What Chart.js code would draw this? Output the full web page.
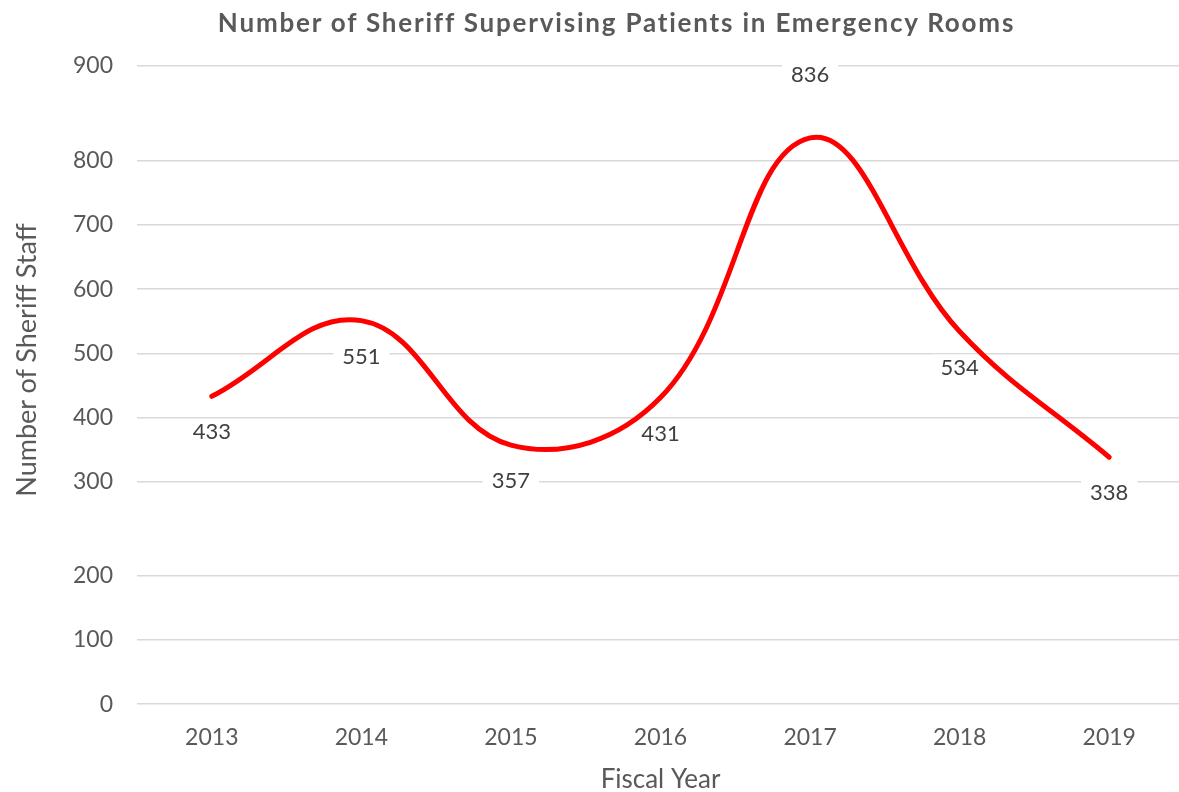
<!DOCTYPE html>
<html><head><meta charset="utf-8">
<script src="https://cdn.jsdelivr.net/npm/chart.js@4/dist/chart.umd.min.js"></script>
<style>
html,body{margin:0;padding:0;background:#fff;overflow:hidden}
#wrap{position:relative;width:1186px;height:792px}
canvas{display:block;position:absolute;left:0;top:0}
#title{position:absolute;left:0;top:7px;width:1233px;text-align:center;font:bold 26px Lato, sans-serif;line-height:30px;letter-spacing:1.8px;color:#595959;white-space:nowrap}
#ytitle{position:absolute;left:25px;top:360px;width:400px;margin-left:-200px;margin-top:-16px;height:32px;line-height:32px;text-align:center;font:27px Lato, sans-serif;color:#595959;white-space:nowrap;transform:rotate(-90deg)}
</style>
</head><body>
<div id="wrap">
<canvas id="c" width="1186" height="792"></canvas>
<div id="title">Number of Sheriff Supervising Patients in Emergency Rooms</div>
<div id="ytitle">Number of Sheriff Staff</div>
</div>
<script>
const categories = ['2013','2014','2015','2016','2017','2018','2019'];
const sheriffStaff = [433, 551, 357, 431, 836, 534, 338];
const labelPlacement = ['below','below','below','below','above','below','below'];
const yTickLabels = [0, 100, 200, 300, 400, 500, 600, 700, 800, 900];
// the reference axis has extra space inserted below 300 and above 800 (axis breaks)
const axisBreaks = [{below: 250, extra: 47}, {above: 850, extra: 48}];

function toAxis(v) {
  let r = v;
  axisBreaks.forEach(b => {
    if (b.below !== undefined && v < b.below) r -= b.extra;
    if (b.above !== undefined && v > b.above) r += b.extra;
  });
  return r;
}

const TXT = '#595959';
const FONT = 'Lato';

const pointLabels = {
  id: 'pointLabels',
  beforeDatasetsDraw(chart) {
    const ctx = chart.ctx;
    const meta = chart.getDatasetMeta(0);
    ctx.save();
    ctx.font = '22px ' + FONT;
    ctx.textAlign = 'center';
    ctx.textBaseline = 'middle';
    meta.data.forEach((pt, i) => {
      const txt = String(sheriffStaff[i]);
      const dy = labelPlacement[i] === 'above' ? -63 : 36;
      const x = pt.x, y = pt.y + dy;
      const w = ctx.measureText(txt).width + 18, h = 26;
      ctx.fillStyle = '#ffffff';
      ctx.fillRect(x - w / 2, y - h / 2, w, h);
      ctx.fillStyle = '#404040';
      ctx.fillText(txt, x, y);
    });
    ctx.restore();
  }
};

function draw() {
  new Chart(document.getElementById('c'), {
    type: 'line',
    data: {
      labels: categories,
      datasets: [{
        data: sheriffStaff,
        borderColor: '#FF0000',
        borderWidth: 5,
        tension: 0.4,
        pointRadius: 0,
        fill: false,
        borderCapStyle: 'round',
        borderJoinStyle: 'round'
      }]
    },
    options: {
      responsive: false,
      animation: false,
      devicePixelRatio: 1,
      layout: { padding: { top: 66, left: 49, right: 2, bottom: -3 } },
      plugins: {
        legend: { display: false },
        tooltip: { enabled: false },
        title: { display: false }
      },
      scales: {
        x: {
          type: 'category',
          offset: true,
          grid: { display: false, drawTicks: false },
          border: { display: false },
          ticks: { color: TXT, font: { family: FONT, size: 23 }, padding: 20 },
          title: { display: true, text: 'Fiscal Year', color: TXT, font: { family: FONT, size: 26 }, padding: { top: -8, bottom: 0 } }
        },
        y: {
          min: toAxis(yTickLabels[0]),
          max: toAxis(yTickLabels[yTickLabels.length - 1]),
          afterBuildTicks(scale) {
            scale.ticks = yTickLabels.map(v => ({ value: toAxis(v) }));
          },
          ticks: {
            color: TXT,
            font: { family: FONT, size: 23 },
            padding: 24,
            callback: (val, i) => String(yTickLabels[i])
          },
          grid: { color: '#d9d9d9', lineWidth: 1.5, drawTicks: false },
          border: { display: false },
          title: { display: false }
        }
      }
    },
    plugins: [pointLabels]
  });
}

const fl = document.fonts ? Promise.all([
  document.fonts.load('23px Lato'), document.fonts.load('bold 26px Lato'), document.fonts.load('27px Lato')
]).catch(() => {}) : Promise.resolve();
fl.then(draw, draw);
</script>
</body></html>
